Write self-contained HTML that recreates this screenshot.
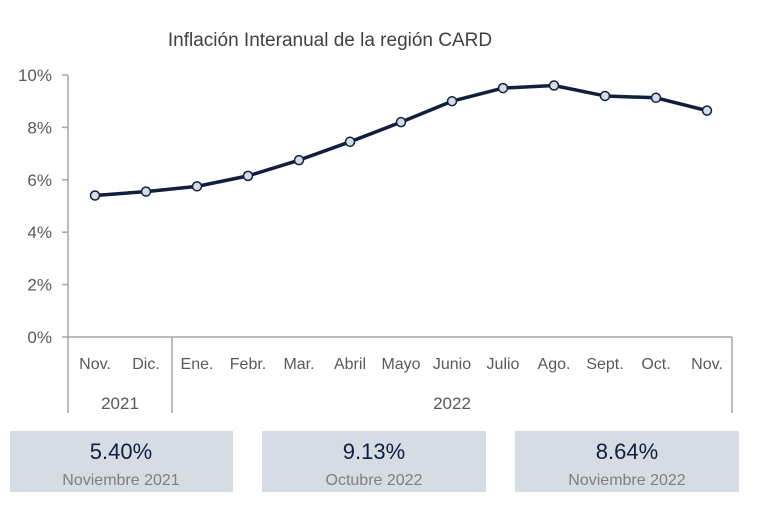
<!DOCTYPE html>
<html><head><meta charset="utf-8"><style>
body{margin:0;background:#fff;font-family:"Liberation Sans",sans-serif}
svg{display:block}
</style></head><body>
<svg width="768" height="522">
<text x="330" y="46" text-anchor="middle" font-size="19" fill="#404040">Inflación Interanual de la región CARD</text>
<g id="yaxis"></g>
<g id="xaxis"></g>
<g id="series"></g>
<g>
<rect x="10" y="431" width="223" height="61" fill="#d6dce4"/>
<text x="121" y="459" text-anchor="middle" font-size="22" fill="#0f1f3d">5.40%</text>
<text x="121" y="485" text-anchor="middle" font-size="16" fill="#7f7f7f">Noviembre 2021</text>
<rect x="262" y="431" width="224" height="61" fill="#d6dce4"/>
<text x="374" y="459" text-anchor="middle" font-size="22" fill="#0f1f3d">9.13%</text>
<text x="374" y="485" text-anchor="middle" font-size="16" fill="#7f7f7f">Octubre 2022</text>
<rect x="515" y="431" width="224" height="61" fill="#d6dce4"/>
<text x="627" y="459" text-anchor="middle" font-size="22" fill="#0f1f3d">8.64%</text>
<text x="627" y="485" text-anchor="middle" font-size="16" fill="#7f7f7f">Noviembre 2022</text>
</g>
</svg>
<script>
const categories=["Nov.","Dic.","Ene.","Febr.","Mar.","Abril","Mayo","Junio","Julio","Ago.","Sept.","Oct.","Nov."];
const values=[5.40,5.55,5.75,6.15,6.75,7.45,8.2,9.0,9.5,9.6,9.2,9.13,8.64];
const yTicks=[0,2,4,6,8,10];
const yearLabels=["2021","2022"];
const NS="http://www.w3.org/2000/svg";
const x=i=>95+i*51.0;
const y=v=>337-v*26.2;
function mk(tag,attrs,parent,txt){const e=document.createElementNS(NS,tag);for(const k in attrs)e.setAttribute(k,attrs[k]);if(txt!=null)e.textContent=txt;parent.appendChild(e);return e;}
const ya=document.getElementById('yaxis'),xa=document.getElementById('xaxis'),se=document.getElementById('series');
mk('line',{x1:68,y1:y(10),x2:68,y2:413,stroke:'#a6a6a6','stroke-width':1.5},ya);
yTicks.forEach(t=>{
 mk('line',{x1:62,y1:y(t),x2:68,y2:y(t),stroke:'#a6a6a6','stroke-width':1.5},ya);
 const tx=mk('text',{x:52,y:y(t)+6,'text-anchor':'end','font-size':17,fill:'#595959'},ya,t+'%');
 
 
});
mk('line',{x1:68,y1:337,x2:732,y2:337,stroke:'#a6a6a6','stroke-width':1.5},xa);
[172,732].forEach(xx=>mk('line',{x1:xx,y1:337,x2:xx,y2:413,stroke:'#a6a6a6','stroke-width':1.5},xa));
categories.forEach((c,i)=>{
 const t=mk('text',{x:x(i),y:369,'text-anchor':'middle','font-size':16,fill:'#595959'},xa,c);
 
 
});
[[120,yearLabels[0]],[452,yearLabels[1]]].forEach(([xx,l])=>{
 const t=mk('text',{x:xx,y:409,'text-anchor':'middle','font-size':17,fill:'#595959'},xa,l);
 
 
});
const p=mk('polyline',{points:values.map((v,i)=>x(i)+','+y(v)).join(' '),fill:'none',stroke:'#0f1f3d','stroke-width':3.5,'stroke-linejoin':'round'},se);


values.forEach((v,i)=>{
 const c=mk('circle',{cx:x(i),cy:y(v),r:4.5,fill:'#d6dce4',stroke:'#0f1f3d','stroke-width':1.5},se);
 
 
});
</script>
</body></html>
